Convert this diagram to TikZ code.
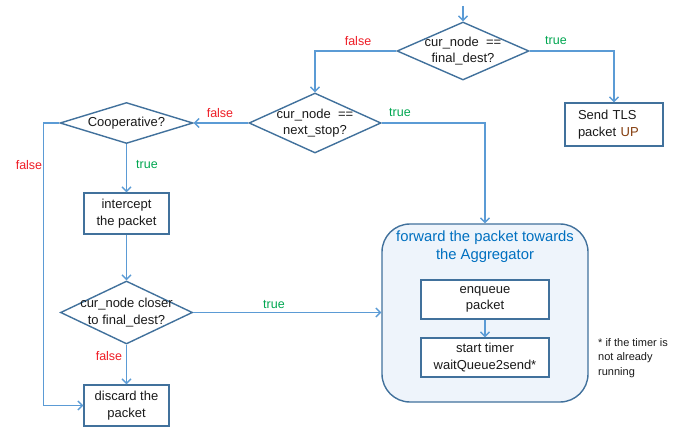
\documentclass[tikz,border=0pt]{standalone}
\usepackage{fontspec}
\setmainfont{Liberation Sans}
\usetikzlibrary{shapes.geometric,arrows.meta}
\definecolor{shp}{HTML}{41719C}
\definecolor{con}{HTML}{5B9BD5}
\definecolor{grpfill}{HTML}{EEF4FB}
\definecolor{ttlblue}{HTML}{0070C0}
\definecolor{lblred}{HTML}{EE1C25}
\definecolor{lblgreen}{HTML}{00A650}
\definecolor{upbrown}{HTML}{843C0C}
\definecolor{txt}{HTML}{1A1A1A}
\begin{document}
\begin{tikzpicture}[x=1pt,y=-1pt,
  font=\fontsize{13}{16.5}\selectfont, text=txt,
  conn/.style={draw=con,line width=1.4pt,-{Straight Barb[length=4.5pt,width=9pt,line width=1.3pt]}},
  dia/.style={diamond,draw=shp,line width=1.4pt,inner sep=0pt,fill=white},
  dlab/.style={align=center,inner sep=0pt},
  box/.style={rectangle,draw=shp,line width=1.4pt,fill=white,align=center,inner sep=0pt},
  lf/.style={text=lblred,font=\fontsize{12.5}{15}\selectfont},
  lt/.style={text=lblgreen,font=\fontsize{12.5}{15}\selectfont}]
\useasboundingbox (0,0) rectangle (689,433);

% decisions
\node[dia,minimum width=132pt,minimum height=58pt,
  label={[dlab]center:cur\_node \ ==\\final\_dest?}] (d1) at (463,51) {};
\node[dia,minimum width=132pt,minimum height=60pt,
  label={[dlab]center:cur\_node \ ==\\next\_stop?}] (d2) at (315,123) {};
\node[dia,minimum width=133pt,minimum height=41pt,
  label={[dlab]center:Cooperative?}] (coop) at (126.5,123) {};
\node[dia,minimum width=132pt,minimum height=63pt,
  label={[dlab]center:cur\_node closer\\to final\_dest?}] (d3) at (126.5,312.5) {};

% boxes
\node[box,minimum width=98pt,minimum height=43pt,align=left,text width=72pt,inner xsep=13pt]
  (tls) at (614,124.5) {Send TLS\\packet \textcolor{upbrown}{UP}};
\node[box,minimum width=85pt,minimum height=41pt] (icp) at (126.5,213.5) {intercept\\the packet};
\node[box,minimum width=85pt,minimum height=41pt] (disc) at (126.5,405.5) {discard the\\packet};

% group
\node[draw=shp,fill=grpfill,line width=1.4pt,rounded corners=28pt,
  minimum width=206pt,minimum height=178pt] (grp) at (485,313) {};
\node[text=ttlblue,align=center,font=\fontsize{14.8}{18}\selectfont] (ttl) at (485,247)
  {forward the packet towards\\the Aggregator};
\node[box,minimum width=128pt,minimum height=39pt] (enq) at (485,299.5) {enqueue\\packet};
\node[box,minimum width=128pt,minimum height=39pt] (tmr) at (485,357.5) {start timer\\waitQueue2send*};

% note
\node[anchor=north west,align=left,inner sep=0pt,font=\fontsize{11}{14.5}\selectfont]
  (note) at (598,338) {* if the timer is\\not already\\running};

% connectors
\coordinate (start) at (463,6);
\draw[conn] (start) -- (d1.north);
\draw[conn] (d1.east) -| (tls.north);
\draw[conn] (d1.west) -| (d2.north);
\draw[conn] (d2.east) -| (grp.north);
\draw[conn] (d2.west) -- (coop.east);
\draw[conn] (coop.west) -- ++(-16,0) |- (disc.west);
\draw[conn] (coop.south) -- (icp.north);
\draw[conn] (icp.south) -- (d3.north);
\draw[conn] (d3.east) -- (d3.east -| grp.west);
\draw[conn] (d3.south) -- (disc.north);
\draw[conn] (enq.south) -- (tmr.north);

% labels
\node[lf] (f1) at (358,41) {false};
\node[lt] (t1) at (556,41) {true};
\node[lf] (f2) at (220,113) {false};
\node[lt] (t2) at (400,113) {true};
\node[lf] (f3) at (29,165) {false};
\node[lt] (t3) at (147,165) {true};
\node[lt] (t4) at (274,305) {true};
\node[lf] (f4) at (109,356) {false};
\end{tikzpicture}
\end{document}
